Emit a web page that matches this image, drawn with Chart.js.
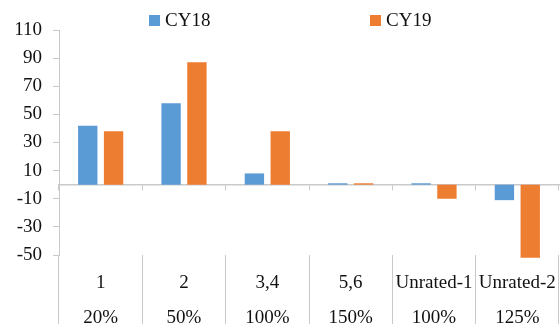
<!DOCTYPE html>
<html>
<head>
<meta charset="utf-8">
<script src="https://cdn.jsdelivr.net/npm/chart.js@4/dist/chart.umd.min.js"></script>
<style>
  html, body { margin: 0; padding: 0; background: #fff; }
  #wrap { width: 560px; height: 324px; }
</style>
</head>
<body>
<div id="wrap"><canvas id="c" width="560" height="324"></canvas></div>
<script>
// Rating buckets (top line) and their risk weights (bottom line)
const ratings = ["1", "2", "3,4", "5,6", "Unrated-1", "Unrated-2"];
const riskWeights = ["20%", "50%", "100%", "150%", "100%", "125%"];

// Series values
const cy18 = [42, 58, 8, 1, 1, -11];
const cy19 = [38, 87, 38, 1, -10, -52];

// Value axis ticks
const yMin = -50, yMax = 110, yStep = 20;

const FONT = "'Liberation Serif', 'Times New Roman', serif";
const AXIS_GRAY = "#c9c9c9";
const TEXT = "#111";

const labels = ratings.map((r, i) => [r, "", riskWeights[i]]);

// Legend drawn as a row of square swatches with wide spacing
const legendRow = {
  id: "legendRow",
  afterDraw(chart) {
    const ctx = chart.ctx;
    const slots = [149, 370];
    ctx.save();
    ctx.font = "19px " + FONT;
    ctx.textBaseline = "middle";
    chart.data.datasets.forEach((ds, i) => {
      const x = slots[i];
      ctx.fillStyle = ds.backgroundColor;
      ctx.fillRect(x, 15, 11, 11);
      ctx.fillStyle = TEXT;
      ctx.fillText(ds.label, x + 16, 21);
    });
    ctx.restore();
  }
};

new Chart(document.getElementById("c"), {
  type: "bar",
  data: {
    labels: labels,
    datasets: [
      { label: "CY18", data: cy18, backgroundColor: "#5B9BD5", clip: false },
      { label: "CY19", data: cy19, backgroundColor: "#ED7D31", clip: false }
    ]
  },
  options: {
    responsive: false,
    animation: false,
    events: [],
    categoryPercentage: 0.62,
    barPercentage: 0.75,
    layout: { padding: { top: 30, right: 1, left: 0, bottom: 0 } },
    plugins: {
      legend: { display: false },
      tooltip: { enabled: false }
    },
    scales: {
      x: {
        type: "category",
        position: "bottom",
        offset: true,
        border: { display: false },
        grid: {
          offset: true,
          drawOnChartArea: false,
          drawTicks: true,
          tickLength: 69,
          color: AXIS_GRAY
        },
        ticks: {
          autoSkip: false,
          maxRotation: 0,
          minRotation: 0,
          padding: -50,
          color: TEXT,
          font: { family: FONT, size: 19, lineHeight: 0.92 }
        },
        afterFit(scale) { scale.height = 69; }
      },
      // Category axis crossing at zero: the zero line with short ticks below it
      x0: {
        type: "category",
        position: { y: 0 },
        offset: true,
        border: { display: true, color: AXIS_GRAY, width: 1.5 },
        grid: {
          offset: true,
          drawOnChartArea: false,
          drawTicks: true,
          tickLength: 5,
          color: AXIS_GRAY
        },
        ticks: { display: false },
        afterFit(scale) { scale.height = 0; }
      },
      y: {
        min: yMin,
        max: yMax,
        border: { display: true, color: AXIS_GRAY },
        grid: {
          drawOnChartArea: false,
          drawTicks: true,
          tickLength: 6,
          color: AXIS_GRAY
        },
        ticks: {
          stepSize: yStep,
          padding: 11,
          color: TEXT,
          font: { family: FONT, size: 19 }
        },
        afterFit(scale) { scale.width = 59; }
      }
    }
  },
  plugins: [legendRow]
});
</script>
</body>
</html>
